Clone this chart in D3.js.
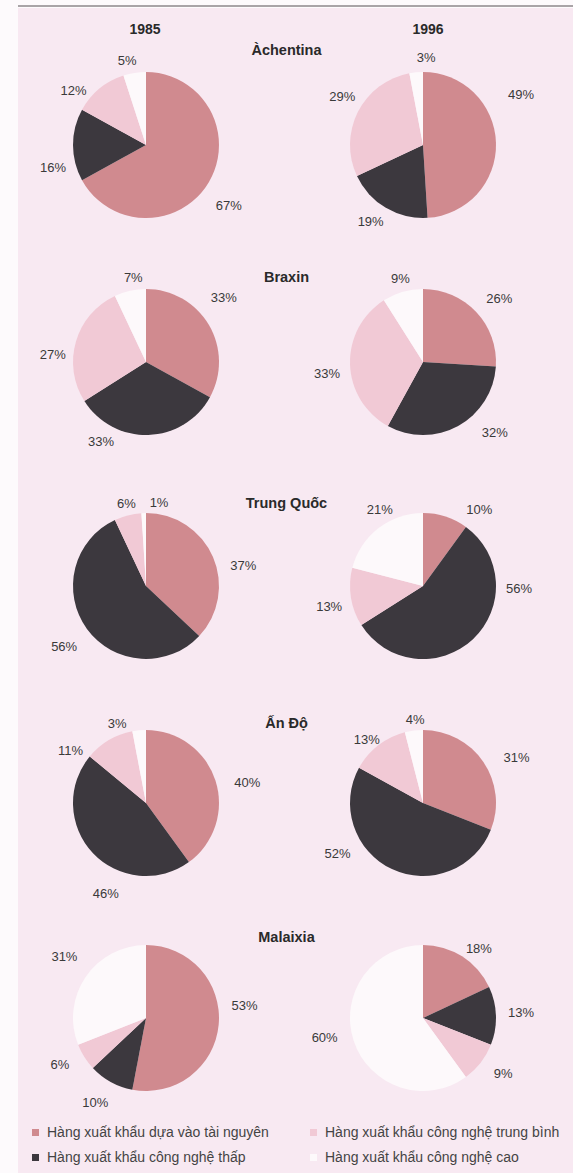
<!DOCTYPE html>
<html>
<head>
<meta charset="utf-8">
<script src="https://cdn.jsdelivr.net/npm/d3@7"></script>
<style>
  body { margin: 0; background: #fff; }
  text { font-family: "Liberation Sans", Arial, sans-serif; }
</style>
</head>
<body>
<div id="chart"></div>
<script>
// ************** data *****************
var years = ["1985", "1996"];
var countries = ["Àchentina", "Braxin", "Trung Quốc", "Ấn Độ", "Malaixia"];
var categories = [
  "Hàng xuất khẩu dựa vào tài nguyên",
  "Hàng xuất khẩu công nghệ thấp",
  "Hàng xuất khẩu công nghệ trung bình",
  "Hàng xuất khẩu công nghệ cao"
];
// values per country, [1985, 1996], in category order
var achentina = [[67, 16, 12, 5], [49, 19, 29, 3]];
var braxin    = [[33, 33, 27, 7], [26, 32, 33, 9]];
var trungQuoc = [[37, 56, 6, 1],  [10, 56, 13, 21]];
var anDo      = [[40, 46, 11, 3], [31, 52, 13, 4]];
var malaixia  = [[53, 10, 6, 31], [18, 13, 9, 60]];
var values = [achentina, braxin, trungQuoc, anDo, malaixia];

// ************** layout *****************
var width = 573, height = 1173;
var radius = 73;
var colX = [146, 423];
var rowY = [145, 362, 586, 803, 1018];
var titleY = [55, 282, 508, 728, 942];
var colors = ["#d08a8f", "#3c383e", "#f1c9d5", "#fdf9fb"];

//label nudges from the arc centroid, same shape as values
var labelNudge = [
  [[[1, 12], [2, 22], [-12, 19], [-4, 9]],   [[3, -48], [-4, -5], [4, -5], [12, 7]]],
  [[[-4, -16], [-48, -16], [-2, 19], [8, 8]], [[7, 1], [26, -13], [-1, 8], [4, 8]]],
  [[[10, 17], [-5, 5], [4, 9], [16, 11]],    [[27, 14], [31, -67], [0, 6], [15, -1]]],
  [[[11, 9], [29, 25], [-27, 29], [-20, 15]], [[15, 8], [-45, -36], [2, 12], [4, 11]]],
  [[[4, -22], [-5, 1], [-6, -4], [-3, -8]],  [[5, 11], [3, -3], [5, -3], [-8, -10]]]
];

var svg = d3.select("#chart").append("svg")
  .attr("width", width)
  .attr("height", height);

//page background
svg.append("rect")
  .attr("width", width).attr("height", height)
  .attr("fill", "#fdfafc");
svg.append("rect")
  .attr("x", 18).attr("y", 8)
  .attr("width", width - 18).attr("height", height - 8)
  .attr("fill", "#f8e9f2");
svg.append("rect")
  .attr("x", 18).attr("y", 5)
  .attr("width", width - 18).attr("height", 2)
  .attr("fill", "#a9a4a7");

var color = d3.scaleOrdinal().domain(categories).range(colors);

var pie = d3.pie().sort(null).value(function(d) { return d; });
var arc = d3.arc().innerRadius(0).outerRadius(radius);
var labelArc = d3.arc().innerRadius(radius + 22).outerRadius(radius + 22);

//year headers
svg.selectAll("text.year")
  .data(years)
  .enter()
  .append("text")
  .attr("class", "year")
  .attr("x", function(d, i) { return colX[i] + (i == 0 ? -1 : 5); })
  .attr("y", 34)
  .attr("text-anchor", "middle")
  .attr("font-size", "14px")
  .attr("font-weight", "bold")
  .attr("fill", "#2a2a2a")
  .text(function(d) { return d; });

//country names, centred between the two columns
svg.selectAll("text.country")
  .data(countries)
  .enter()
  .append("text")
  .attr("class", "country")
  .attr("x", (colX[0] + colX[1]) / 2 + 2)
  .attr("y", function(d, i) { return titleY[i]; })
  .attr("text-anchor", "middle")
  .attr("font-size", "14.5px")
  .attr("font-weight", "bold")
  .attr("fill", "#2a2a2a")
  .text(function(d) { return d; });

//pies
values.forEach(function(pair, row) {
  pair.forEach(function(vals, col) {
    var g = svg.append("g")
      .attr("transform", "translate(" + colX[col] + "," + rowY[row] + ")");

    var slices = pie(vals);
    var nudge = labelNudge[row][col];

    g.selectAll("path")
      .data(slices)
      .enter()
      .append("path")
      .attr("d", arc)
      .attr("fill", function(d, i) { return color(categories[i]); });

    g.selectAll("text")
      .data(slices)
      .enter()
      .append("text")
      .attr("transform", function(d, i) {
        var c = labelArc.centroid(d);
        return "translate(" + (c[0] + nudge[i][0]) + "," + (c[1] + nudge[i][1]) + ")";
      })
      .attr("dy", "0.35em")
      .attr("text-anchor", "middle")
      .attr("font-size", "13px")
      .attr("fill", "#3a3a3a")
      .text(function(d) { return d.data + "%"; });
  });
});

//legend
var legend = svg.selectAll("g.legend")
  .data(categories)
  .enter()
  .append("g")
  .attr("class", "legend")
  .attr("transform", function(d, i) {
    var x = i == 2 || i == 3 ? 310 : 32;
    var y = i == 1 || i == 3 ? 1154 : 1129;
    return "translate(" + x + "," + y + ")";
  });

legend.append("rect")
  .attr("width", 7)
  .attr("height", 7)
  .attr("fill", function(d) { return color(d); });

legend.append("text")
  .attr("x", 15)
  .attr("y", 8)
  .attr("font-size", "14px")
  .attr("fill", "#444")
  .text(function(d) { return d; });
</script>
</body>
</html>
